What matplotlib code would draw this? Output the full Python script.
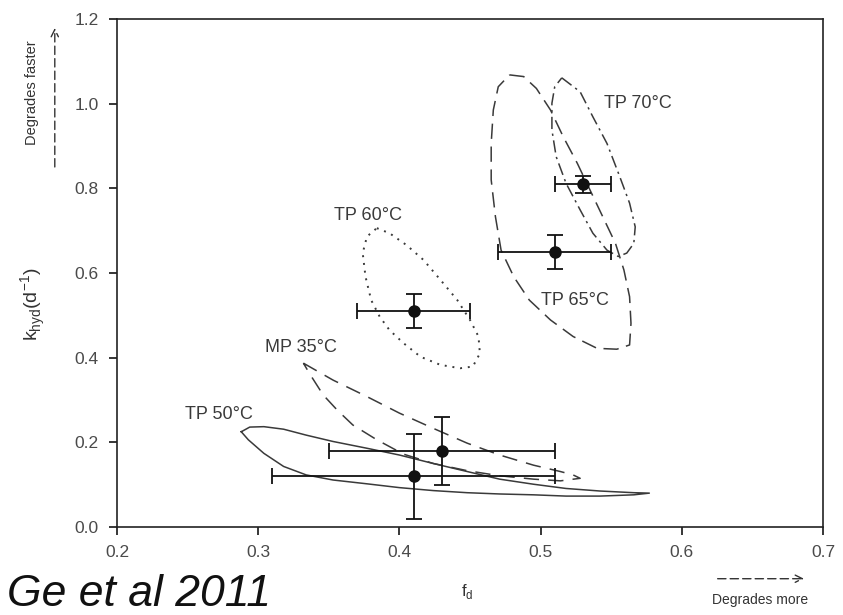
import matplotlib
matplotlib.use("Agg")
import matplotlib.pyplot as plt
from matplotlib.patches import FancyArrowPatch

plt.rcParams['font.family'] = ['Liberation Sans', 'DejaVu Sans']

# ---- data -------------------------------------------------------------
labels = ["TP 50°C", "MP 35°C", "TP 60°C", "TP 65°C", "TP 70°C"]
fd = [0.41, 0.43, 0.41, 0.51, 0.53]
fd_err = [0.10, 0.08, 0.04, 0.04, 0.02]
khyd = [0.12, 0.18, 0.51, 0.65, 0.81]
khyd_err = [0.10, 0.08, 0.04, 0.04, 0.02]

label_x = [0.248, 0.305, 0.354, 0.500, 0.545]
label_y = [0.265, 0.423, 0.735, 0.536, 1.000]

tp50_x = [0.288, 0.294, 0.304, 0.318, 0.334, 0.353, 0.377, 0.400, 0.424, 0.448,
          0.471, 0.495, 0.518, 0.542, 0.566, 0.577, 0.566, 0.542, 0.518, 0.495,
          0.471, 0.448, 0.424, 0.400, 0.377, 0.353, 0.334, 0.318, 0.304, 0.293]
tp50_y = [0.225, 0.236, 0.237, 0.231, 0.217, 0.202, 0.186, 0.170, 0.150, 0.131,
          0.113, 0.101, 0.091, 0.085, 0.081, 0.080, 0.076, 0.073, 0.073, 0.076,
          0.078, 0.081, 0.086, 0.093, 0.102, 0.111, 0.123, 0.143, 0.174, 0.206]

mp35_x = [0.332, 0.353, 0.377, 0.400, 0.424, 0.448, 0.471, 0.495, 0.514, 0.523,
          0.528, 0.514, 0.495, 0.471, 0.448, 0.424, 0.403, 0.384, 0.367, 0.356,
          0.346, 0.337]
mp35_y = [0.387, 0.347, 0.308, 0.269, 0.233, 0.198, 0.170, 0.146, 0.131, 0.123,
          0.115, 0.109, 0.113, 0.121, 0.133, 0.150, 0.172, 0.206, 0.241, 0.276,
          0.312, 0.359]

tp60_x = [0.384, 0.393, 0.405, 0.417, 0.429, 0.441, 0.450, 0.456, 0.457, 0.452,
          0.443, 0.429, 0.415, 0.403, 0.393, 0.386, 0.380, 0.376, 0.374, 0.377]
tp60_y = [0.706, 0.694, 0.666, 0.631, 0.584, 0.536, 0.489, 0.450, 0.410, 0.379,
          0.375, 0.383, 0.402, 0.434, 0.465, 0.497, 0.536, 0.591, 0.647, 0.686]

tp65_x = [0.478, 0.488, 0.497, 0.507, 0.516, 0.526, 0.535, 0.544, 0.553, 0.559,
          0.563, 0.564, 0.563, 0.554, 0.540, 0.523, 0.507, 0.492, 0.481, 0.472,
          0.468, 0.465, 0.465, 0.4665, 0.470]
tp65_y = [1.068, 1.064, 1.036, 0.985, 0.922, 0.859, 0.796, 0.733, 0.670, 0.607,
          0.544, 0.481, 0.430, 0.420, 0.422, 0.450, 0.489, 0.536, 0.591, 0.654,
          0.733, 0.820, 0.906, 0.985, 1.040]

tp70_x = [0.515, 0.528, 0.537, 0.547, 0.556, 0.563, 0.567, 0.566, 0.561, 0.555,
          0.547, 0.537, 0.528, 0.518, 0.511, 0.508, 0.508, 0.510]
tp70_y = [1.061, 1.028, 0.969, 0.906, 0.828, 0.765, 0.709, 0.670, 0.647, 0.639,
          0.654, 0.694, 0.749, 0.812, 0.875, 0.938, 1.001, 1.040]

xticks = [0.2, 0.3, 0.4, 0.5, 0.6, 0.7]
yticks = [0.0, 0.2, 0.4, 0.6, 0.8, 1.0, 1.2]

# ---- figure -----------------------------------------------------------
fig = plt.figure(figsize=(8.43, 6.15), dpi=100)
ax = fig.add_axes([0.1388, 0.1431, 0.8375, 0.826])

def closed(xs, ys):
    return list(xs) + [xs[0]], list(ys) + [ys[0]]

line_col = '#3a3a3a'
cx, cy = closed(tp50_x, tp50_y)
ax.plot(cx, cy, color=line_col, lw=1.1, ls='-')
cx, cy = closed(mp35_x, mp35_y)
ax.plot(cx, cy, color=line_col, lw=1.1, ls=(0, (10, 6)))
cx, cy = closed(tp60_x, tp60_y)
ax.plot(cx, cy, color=line_col, lw=1.4, ls=(0, (1, 3)))
cx, cy = closed(tp65_x, tp65_y)
ax.plot(cx, cy, color=line_col, lw=1.1, ls=(0, (10, 5)))
cx, cy = closed(tp70_x, tp70_y)
ax.plot(cx, cy, color=line_col, lw=1.1, ls=(0, (8, 3, 1.5, 3)))

ax.errorbar(fd, khyd, xerr=fd_err, yerr=khyd_err, fmt='o', color='#111111',
            ms=8, lw=1.3, capsize=6, capthick=1.3, zorder=5)

for lab, lx, ly in zip(labels, label_x, label_y):
    ax.text(lx, ly, lab, fontsize=13, color='#3a3a3a', ha='left', va='center')

ax.set_xlim(0.2, 0.7)
ax.set_ylim(0.0, 1.2)
ax.set_xticks(xticks)
ax.set_yticks(yticks)
ax.set_xticklabels([f"{v:.1f}" for v in xticks])
ax.set_yticklabels([f"{v:.1f}" for v in yticks])
ax.tick_params(direction='out', length=6, width=1.1, labelsize=12.5,
               labelcolor='#4a4a4a', pad=7)
for sp in ax.spines.values():
    sp.set_linewidth(1.2)
    sp.set_color('#222222')

# axis labels
fig.text(0.554, 0.038, r"f$_{\mathregular{d}}$", fontsize=12, color='#333333',
         ha='center', va='center')
fig.text(0.040, 0.505, r"k$_{\mathregular{hyd}}$(d$^{\mathregular{-1}}$)",
         fontsize=14, color='#333333', rotation=90, ha='center', va='center')

# direction notes
fig.text(0.038, 0.850, "Degrades faster", fontsize=10.5, color='#333333',
         rotation=90, ha='center', va='center')
fig.add_artist(FancyArrowPatch(
    (0.065, 0.724), (0.065, 0.959), transform=fig.transFigure,
    arrowstyle='->', mutation_scale=13, linestyle=(0, (6, 3)),
    color='#333333', lw=1.0))
fig.text(0.902, 0.024, "Degrades more", fontsize=10, color='#333333',
         ha='center', va='center')
fig.add_artist(FancyArrowPatch(
    (0.848, 0.059), (0.957, 0.059), transform=fig.transFigure,
    arrowstyle='->', mutation_scale=13, linestyle=(0, (6, 3)),
    color='#333333', lw=1.0))

fig.text(0.008, 0.014, "Ge et al 2011", fontsize=32, style='italic',
         color='#111111', ha='left', va='baseline')

fig.savefig("out.png", dpi=100)
